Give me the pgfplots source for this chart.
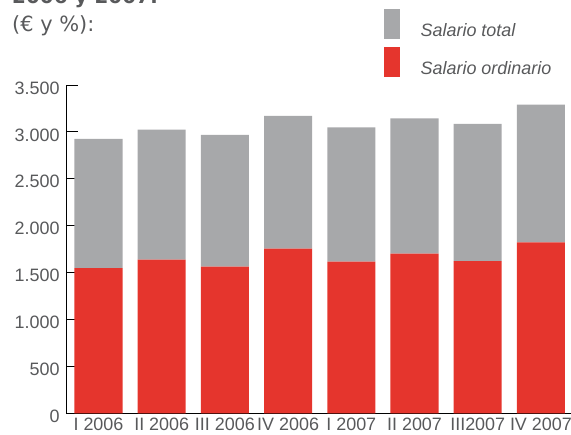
\documentclass[border=0pt]{standalone}
\usepackage{pgfplots}
\pgfplotsset{compat=1.18}
\usepackage{fontspec}
\setmainfont{Liberation Sans}
\newfontfamily\titlefont{DejaVu Sans}
\definecolor{txtgray}{HTML}{58595B}
\definecolor{bargray}{HTML}{A7A8AA}
\definecolor{barred}{HTML}{E5352D}
\pgfplotsset{mybarlegend/.style={legend image code/.code={\fill[##1] (0bp,-8.6bp) rectangle (16bp,21.4bp);}}}
\begin{document}
\begin{tikzpicture}
\begin{axis}[
  at={(66bp,21.7bp)}, anchor=south west,
  scale only axis, width=505bp, height=328.3bp,
  ybar stacked, bar width=0.76,
  xmin=-0.514, xmax=7.476, ymin=0, ymax=3500,
  axis lines*=left, axis line style={black, line width=0.9bp},
  tick align=inside, major tick length=11.7bp,
  xtick={0,1,2,3,4,5,6,7},
  xticklabels={I 2006, II 2006, III 2006, IV 2006, I 2007, II 2007, III2007, IV 2007},
  x tick style={draw=none},
  ytick={0,500,1000,1500,2000,2500,3000,3500},
  y tick style={black, line width=0.9bp},
  tick label style={font=\fontsize{18}{20}\selectfont, text=txtgray},
  /pgf/number format/assume math mode=true,
  yticklabel style={/pgf/number format/1000 sep={.}, xshift=-3bp, yshift=-3bp},
  xticklabel style={yshift=-1.5bp},
  legend style={at={(rel axis cs:0.6297,1.2315)}, anchor=north west,
    draw=none, fill=none, inner sep=0pt, outer sep=0pt, row sep=8bp,
    font=\fontsize{18}{20}\selectfont\itshape, text=txtgray,
    nodes={inner sep=0pt},
    /tikz/every odd column/.append style={column sep=20.7bp}},
  legend cell align=left,
  reverse legend,
]
\addplot[fill=barred, draw=none, mybarlegend]
  coordinates {(0,1549) (1,1638) (2,1564) (3,1755) (4,1617) (5,1702) (6,1623) (7,1822)};
\addplot[fill=bargray, draw=none, mybarlegend]
  coordinates {(0,1377) (1,1386) (2,1404) (3,1415) (4,1432) (5,1443) (6,1462) (7,1468)};
\legend{Salario ordinario, Salario total}
\end{axis}
\node[anchor=base west, inner sep=0pt, text=txtgray, font=\titlefont\bfseries\fontsize{20}{22}\selectfont] at (12bp,431bp) {2006 y 2007:};
\node[anchor=base west, inner sep=0pt, text=txtgray, font=\titlefont\fontsize{21}{23}\selectfont] at (12bp,403bp) {(€ y \%):};
\pgfresetboundingbox
\path[use as bounding box] (0,0) rectangle (571bp,435bp);
\end{tikzpicture}
\end{document}
